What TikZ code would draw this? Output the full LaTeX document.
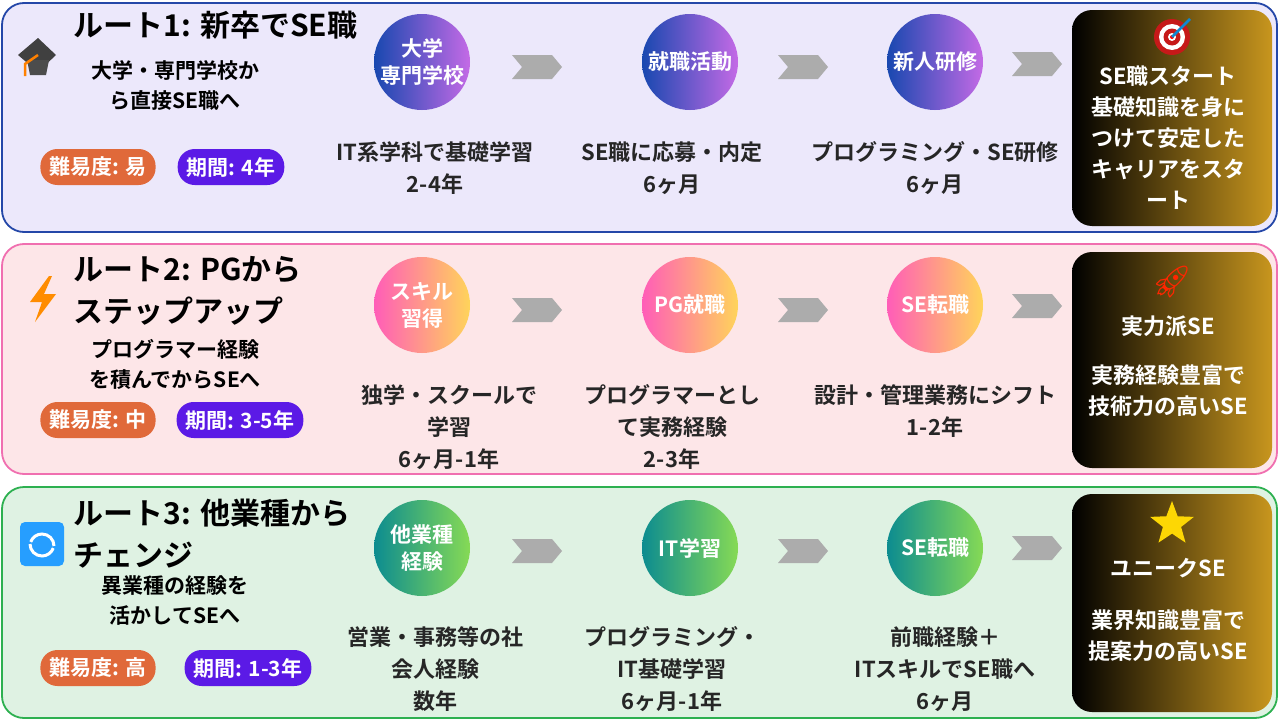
\documentclass[tikz,border=0pt]{standalone}
\usepackage{fontspec}
\setmainfont{Noto Sans CJK JP}[BoldFont={* Bold}]
\newfontfamily\emo{Noto Emoji}
\usetikzlibrary{shapes.geometric}
\definecolor{bgA}{HTML}{ECE8FB}\definecolor{bdA}{HTML}{2447A8}
\definecolor{bgB}{HTML}{FDE6E8}\definecolor{bdB}{HTML}{F06FB0}
\definecolor{bgC}{HTML}{DFF2E3}\definecolor{bdC}{HTML}{2DB050}
\definecolor{orng}{HTML}{E0693A}\definecolor{purp}{HTML}{5B1AE6}
\definecolor{gold}{HTML}{C8961E}
\definecolor{cA1}{HTML}{1848B0}\definecolor{cA2}{HTML}{C46AE6}
\definecolor{cB1}{HTML}{FF5DB8}\definecolor{cB2}{HTML}{FFD45A}
\definecolor{cC1}{HTML}{0C8C90}\definecolor{cC2}{HTML}{86DA55}
\tikzset{
 panel/.style={rounded corners=22pt,line width=1.8pt},
 circ/.style={circle,minimum size=96pt,inner sep=0pt,text=white,font=\bfseries\fontsize{21}{27}\selectfont,align=center},
 gA/.style={left color=cA1,right color=cA2},
 gB/.style={left color=cB1,right color=cB2},
 gC/.style={left color=cC1,right color=cC2},
 chev/.style={fill=gray!65,draw=none},
 lbl/.style={font=\bfseries\fontsize{22}{32}\selectfont,align=center,text=black!85},
 ttl/.style={font=\bfseries\fontsize{30}{42}\selectfont,anchor=west,align=left},
 sub/.style={font=\bfseries\fontsize{21}{30}\selectfont,align=center},
 badge/.style={rounded corners=17pt,minimum height=36pt,text=white,font=\bfseries\fontsize{21}{22}\selectfont,inner xsep=9pt},
 fin/.style={rounded corners=20pt,left color=black,right color=gold},
 fint/.style={text=white,font=\bfseries\fontsize{22}{31}\selectfont,align=center}
}
\newcommand{\chevat}[2]{\fill[chev] (#1-25,#2-12) -- (#1+15,#2-12) -- (#1+25,#2) -- (#1+15,#2+12) -- (#1-25,#2+12) -- (#1-15,#2) -- cycle;}
\begin{document}
\begin{tikzpicture}[x=1pt,y=-1pt]
\useasboundingbox (0,0) rectangle (1280,720);
% panels
\draw[panel,fill=bgA,draw=bdA] (2,3) rectangle (1277,232);
\draw[panel,fill=bgB,draw=bdB] (2,244) rectangle (1277,474);
\draw[panel,fill=bgC,draw=bdC] (2,487) rectangle (1277,718);
% row1
\fill[black!75] (18,55) -- (38,38) -- (56,55) -- (38,72) -- cycle;
\fill[black!70] (27,60) -- (49,60) -- (46,75) -- (30,75) -- cycle;
\draw[orange,line width=2.5pt] (38,55) -- (25,64) -- (25,76);
\node[ttl] (t1) at (70,25) {ルート1: 新卒でSE職};
\node[sub] (s1) at (175,85) {大学・専門学校か\\ら直接SE職へ};
\node[badge,fill=orng] (d1) at (98,167) {難易度: 易};
\node[badge,fill=purp] (p1) at (231,167) {期間: 4年};
\node[circ,gA] (a1) at (422,62) {大学\\専門学校};
\node[circ,gA] (a2) at (690,62) {就職活動};
\node[circ,gA] (a3) at (935,62) {新人研修};
\chevat{537}{67}\chevat{803}{67}\chevat{1037}{64}
\node[lbl] (l1) at (435,168) {IT系学科で基礎学習\\2-4年};
\node[lbl] (l2) at (672,168) {SE職に応募・内定\\6ヶ月};
\node[lbl] (l3) at (935,168) {プログラミング・SE研修\\6ヶ月};
\shade[fin] (1072,10) rectangle (1272,226);
\fill[red!75!black!90] (1172,37) circle (18);
\fill[white] (1172,37) circle (13);
\fill[red!75!black!90] (1172,37) circle (8.5);
\fill[white] (1172,37) circle (4);
\fill[red] (1172,37) circle (2);
\draw[cyan!70!blue,line width=2.5pt] (1172,37) -- (1190,19);
\node[fint] (f1) at (1168,138) {SE職スタート\\基礎知識を身に\\つけて安定した\\キャリアをスタ\\ート};
% row2
\fill[orange!90!yellow] (49,276) -- (30,302) -- (42,302) -- (35,322) -- (56,294) -- (44,294) -- (52,276) -- cycle;
\node[ttl] (t2) at (70,291) {ルート2: PGから\\ステップアップ};
\node[sub] (s2) at (175,364) {プログラマー経験\\を積んでからSEへ};
\node[badge,fill=orng] (d2) at (98,420) {難易度: 中};
\node[badge,fill=purp] (p2) at (240,420) {期間: 3-5年};
\node[circ,gB] (b1) at (422,305) {スキル\\習得};
\node[circ,gB] (b2) at (690,305) {PG就職};
\node[circ,gB] (b3) at (935,305) {SE転職};
\chevat{537}{310}\chevat{803}{310}\chevat{1037}{306}
\node[lbl] (m1) at (449,427) {独学・スクールで\\学習\\6ヶ月-1年};
\node[lbl] (m2) at (672,427) {プログラマーとし\\て実務経験\\2-3年};
\node[lbl] (m3) at (935,411) {設計・管理業務にシフト\\1-2年};
\shade[fin] (1072,252) rectangle (1272,468);
\node[font=\emo\fontsize{32}{32}\selectfont,text=red!70!orange] (r2) at (1172,282) {🚀};
\node[fint] (g0) at (1168,326) {実力派SE};
\node[fint] (g1) at (1168,391) {実務経験豊富で\\技術力の高いSE};
% row3
\fill[blue!45!cyan!85,rounded corners=5pt] (20,522) rectangle (64,566);
\draw[white,line width=3pt] (30,544) arc (180:20:12);
\draw[white,line width=3pt] (54,546) arc (0:-160:12);
\node[ttl] (t3) at (70,534) {ルート3: 他業種から\\チェンジ};
\node[sub] (s3) at (175,601) {異業種の経験を\\活かしてSEへ};
\node[badge,fill=orng] (d3) at (98,668) {難易度: 高};
\node[badge,fill=purp] (p3) at (248,668) {期間: 1-3年};
\node[circ,gC] (c1) at (422,548) {他業種\\経験};
\node[circ,gC] (c2) at (690,548) {IT学習};
\node[circ,gC] (c3) at (935,548) {SE転職};
\chevat{537}{551}\chevat{803}{551}\chevat{1037}{548}
\node[lbl] (n1) at (435,669) {営業・事務等の社\\会人経験\\数年};
\node[lbl] (n2) at (672,669) {プログラミング・\\IT基礎学習\\6ヶ月-1年};
\node[lbl] (n3) at (945,669) {前職経験＋\\ITスキルでSE職へ\\6ヶ月};
\shade[fin] (1072,494) rectangle (1272,712);
\node[star,star points=5,star point ratio=2.4,fill=yellow!75!orange,minimum size=46pt,inner sep=0pt] (st) at (1172,524) {};
\node[fint] (h0) at (1168,568) {ユニークSE};
\node[fint] (h1) at (1168,636) {業界知識豊富で\\提案力の高いSE};
\end{tikzpicture}
\end{document}
